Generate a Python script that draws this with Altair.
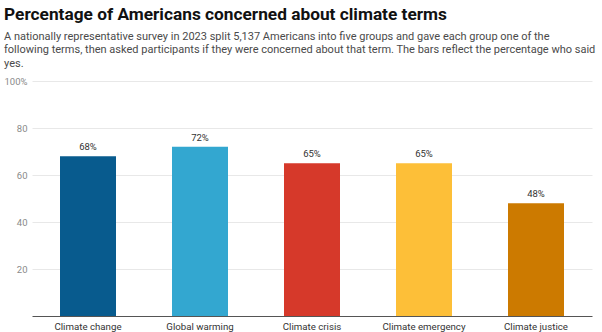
import altair as alt
import pandas as pd

terms = ["Climate change", "Global warming", "Climate crisis", "Climate emergency", "Climate justice"]
values = [68, 72, 65, 65, 48]
colors = ["#085b8e", "#33a7d0", "#d6392a", "#fdbf38", "#cc7a00"]
y_ticks = [20, 40, 60, 80, 100]

FONT = "Roboto"

df = pd.DataFrame({"term": terms, "value": values, "label": [f"{v}%" for v in values]})

x = alt.X("term:N", sort=terms, title=None,
          scale=alt.Scale(paddingInner=0.5, paddingOuter=0.25),
          axis=alt.Axis(labelAngle=0, ticks=False, domainColor="#555555", labelColor="#333333",
                        labelFontSize=9.7, labelFont=FONT, labelPadding=5))
y = alt.Y("value:Q", title=None, scale=alt.Scale(domain=[0, 100]),
          axis=alt.Axis(values=y_ticks, domain=False, ticks=False, gridColor="#e8e8e8",
                        labelColor="#8a8a8a", labelFontSize=9.5, labelFont=FONT, labelPadding=5,
                        labelExpr="datum.value == 100 ? '100%' : datum.label"))

bars = alt.Chart(df).mark_bar().encode(
    x=x, y=y,
    color=alt.Color("term:N", scale=alt.Scale(domain=terms, range=colors), legend=None),
)
text = alt.Chart(df).mark_text(dy=-9, fontSize=9.5, font=FONT, color="#333333").encode(
    x=alt.X("term:N", sort=terms), y="value:Q", text="label:N"
)

chart = (bars + text).properties(
    width=560, height=235,
    autosize=alt.AutoSizeParams(type="none"),
    padding={"left": 32, "top": 81, "right": 10, "bottom": 16},
    title=alt.TitleParams(
        text="Percentage of Americans concerned about climate terms",
        subtitle=["A nationally representative survey in 2023 split 5,137 Americans into five groups and gave each group one of the",
                  "following terms, then asked participants if they were concerned about that term. The bars reflect the percentage who said",
                  "yes."],
        anchor="start", frame="bounds", font=FONT, fontSize=17.3, fontWeight="bold", color="#111111",
        subtitleFont=FONT, subtitleFontSize=11, subtitleColor="#4a4a4a", subtitleLineHeight=13.7,
        subtitlePadding=7, offset=7,
    ),
).configure_view(stroke=None)

chart.save("out.html", embed_options={"renderer": "svg", "actions": False})
